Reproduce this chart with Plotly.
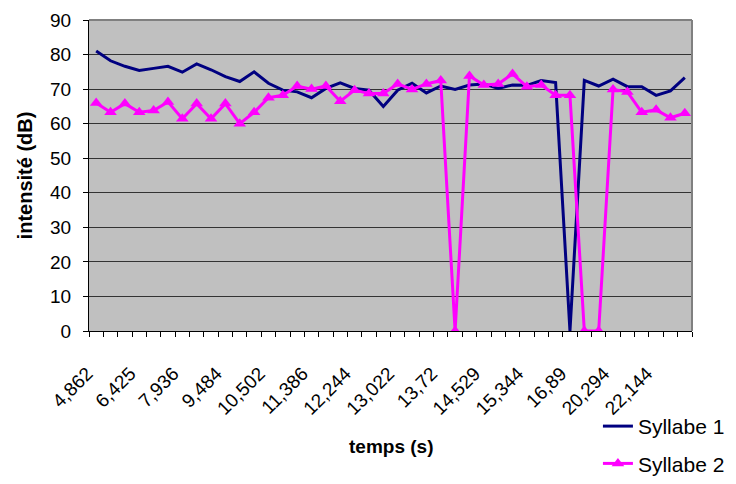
import plotly.graph_objects as go

tick_labels = ["4,862", "6,425", "7,936", "9,484", "10,502", "11,386", "12,244",
               "13,022", "13,72", "14,529", "15,344", "16,89", "20,294", "22,144"]

syllabe1 = [81.0, 78.2, 76.6, 75.4, 76.0, 76.6, 74.9, 77.3, 75.6, 73.6,
            72.2, 75.0, 71.7, 69.7, 69.2, 67.5, 70.2, 71.8, 70.2, 69.7,
            65.0, 69.7, 71.7, 68.9, 70.9, 69.9, 71.2, 71.5, 70.2, 71.2,
            71.1, 72.5, 71.9, 0.0, 72.5, 70.9, 72.9, 70.7, 70.7, 68.2,
            69.5, 73.3]

syllabe2 = [66.0, 63.3, 65.8, 63.3, 63.8, 66.3, 61.4, 65.8, 61.4, 65.8,
            60.0, 63.3, 67.5, 68.2, 70.9, 70.0, 70.9, 66.5, 69.7, 68.7,
            68.7, 71.5, 69.9, 71.5, 72.5, 0.0, 73.8, 71.2, 71.5, 74.4,
            70.7, 71.2, 68.2, 68.2, 0.0, 0.0, 69.9, 69.2, 63.3, 64.0,
            61.7, 63.0]

n = len(syllabe1)
x = list(range(n))
label_step = 3
tick_vals = list(range(0, n, label_step))[:len(tick_labels)]

FONT = "Liberation Sans, Arial, sans-serif"

fig = go.Figure()
fig.add_trace(go.Scatter(
    x=x, y=syllabe1, name="Syllabe 1", mode="lines",
    line=dict(color="#000080", width=3), legendgroup="a"))
fig.add_trace(go.Scatter(
    x=x, y=syllabe2, name="Syllabe 2", mode="lines+markers",
    line=dict(color="#FF00FF", width=3),
    marker=dict(symbol="triangle-up", size=11, color="#FF00FF"),
    legendgroup="b"))

# page body adds an 8px offset; figure sized so it fits the 736x484 window
fig.update_layout(
    width=728, height=476,
    margin=dict(l=81, r=44, t=12, b=153, autoexpand=False),
    paper_bgcolor="white",
    plot_bgcolor="#C0C0C0",
    font=dict(family=FONT, color="black", size=19),
    showlegend=True,
    legend=dict(x=0.844, y=-0.241, xanchor="left", yanchor="top",
                font=dict(size=21, family=FONT), tracegroupgap=7,
                bgcolor="rgba(0,0,0,0)", traceorder="grouped"),
    xaxis=dict(
        range=[-0.5, n - 0.5], tickmode="array", tickvals=tick_vals,
        ticktext=tick_labels, tickangle=-45, ticks="", showgrid=False,
        zeroline=False, showline=True, linecolor="black", linewidth=1,
        tickfont=dict(size=19), ticklabelstandoff=23, ticklabelshift=-9,
        automargin=False,
        minor=dict(tickmode="array", tickvals=[i - 0.5 for i in range(n + 1)],
                   ticks="outside", ticklen=5, tickcolor="black", showgrid=False),
    ),
    yaxis=dict(
        range=[0, 90], dtick=10, tick0=0, ticks="outside", ticklen=5,
        tickcolor="black", showgrid=True, gridcolor="#333333", gridwidth=1,
        zeroline=False, showline=True, linecolor="black", linewidth=1,
        tickfont=dict(size=19), ticklabelstandoff=8, automargin=False,
        title=dict(text="<b>intensité (dB)</b>", font=dict(size=20), standoff=12),
    ),
    shapes=[
        dict(type="line", xref="paper", yref="paper", x0=0, x1=1, y0=1, y1=1,
             line=dict(color="#808080", width=2)),
        dict(type="line", xref="paper", yref="paper", x0=1, x1=1, y0=0, y1=1,
             line=dict(color="#808080", width=2)),
    ],
    annotations=[
        dict(text="<b>temps (s)</b>", xref="paper", yref="paper", x=0.5,
             y=-0.37, xanchor="center", yanchor="middle", showarrow=False,
             font=dict(size=19, family=FONT)),
    ],
)

fig.write_html("out.html")
